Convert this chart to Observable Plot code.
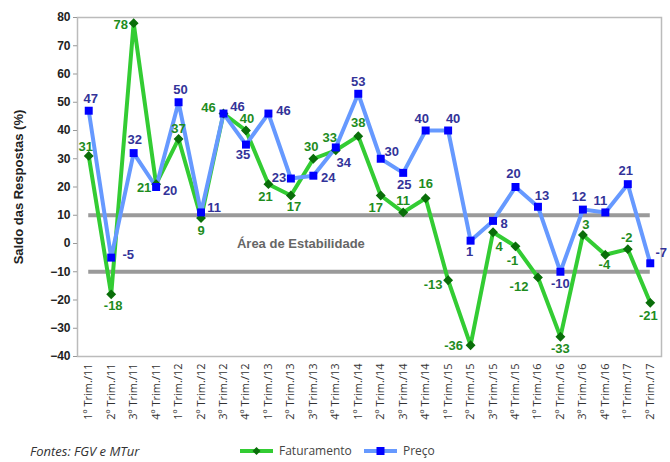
<!DOCTYPE html>
<html><head><meta charset="utf-8">
<script src="https://cdn.jsdelivr.net/npm/d3@7"></script>
<script src="https://cdn.jsdelivr.net/npm/@observablehq/plot@0.6"></script>
<style>
body{margin:0;background:#fff;font-family:Arial,"Liberation Sans",sans-serif;width:670px;height:462px;overflow:hidden}
#footer{position:relative;height:22px;font-family:"Open Sans",sans-serif;color:#444}
#footer .src{position:absolute;left:30px;top:0;line-height:22px;font-style:italic;font-size:13px;color:#333}
#footer .leg{position:absolute;top:0;line-height:22px;font-size:12px;display:flex;align-items:center}
#footer svg{margin-right:6px}
</style>
</head><body>
<div id="chart"></div>
<div id="footer">
  <span class="src">Fontes: FGV e MTur</span>
  <span class="leg" style="left:240px"><svg width="33" height="10"><line x1="0" y1="5" x2="33" y2="5" stroke="#33cc33" stroke-width="4"/><path d="M16.5,1 L20.5,5 L16.5,9 L12.5,5Z" fill="#0a6e0a"/></svg>Faturamento</span>
  <span class="leg" style="left:364px"><svg width="33" height="10"><line x1="0" y1="5" x2="33" y2="5" stroke="#6699ff" stroke-width="4"/><rect x="12.5" y="1" width="8" height="8" fill="#0000ff"/></svg>Preço</span>
</div>
<script>
const quarters = ["1º Trim./11","2º Trim./11","3º Trim./11","4º Trim./11","1º Trim./12","2º Trim./12","3º Trim./12","4º Trim./12","1º Trim./13","2º Trim./13","3º Trim./13","4º Trim./13","1º Trim./14","2º Trim./14","3º Trim./14","4º Trim./14","1º Trim./15","2º Trim./15","3º Trim./15","4º Trim./15","1º Trim./16","2º Trim./16","3º Trim./16","4º Trim./16","1º Trim./17","2º Trim./17"];
const faturamento = [31,-18,78,21,37,9,46,40,21,17,30,33,38,17,11,16,-13,-36,4,-1,-12,-33,3,-4,-2,-21];
const preco = [47,-5,32,20,50,11,46,35,46,23,24,34,53,30,25,40,40,1,8,20,13,-10,12,11,21,-7];
const yTicks = [-40,-30,-20,-10,0,10,20,30,40,50,60,70,80];
const stabilityLimits = [10,-10];
const stabilityLabel = "Área de Estabilidade";
const yLabel = "Saldo das Respostas (%)";
// label placement offsets [dx, dy] in px
const fatOffsets = [[-3,-9],[2,11],[-13,2],[-12,4],[0,-10],[0,13],[-15,-6],[1,-12],[-3,13],[3,11],[-2,-12],[-6,-12],[0,-13],[-5,12],[0,-12],[0,-14],[-15,5],[-17,1],[6,15],[-3,15],[-19,9],[0,12],[3,-10],[-1,10],[-1,-11],[-2,13]];
const preOffsets = [[2,-12],[17,-3],[1,-13],[14,4],[2,-12],[13,-5],[14,-7],[-3,10],[15,-3],[-12,-1],[15,2],[8,15],[0,-12],[11,-7],[1,12],[-4,-12],[5,-12],[-1,11],[11,3],[-2,-13],[4,-11],[0,12],[-4,-13],[-5,-12],[-2,-13],[11,-10]];

const fat = quarters.map((q,i)=>({q, v:faturamento[i], dx:fatOffsets[i][0], dy:fatOffsets[i][1]}));
const pre = quarters.map((q,i)=>({q, v:preco[i], dx:preOffsets[i][0], dy:preOffsets[i][1]}));

function labels(data, fill){
  return data.map(d => Plot.text([d], {x:"q", y:"v", text:d=>String(d.v), dx:d.dx, dy:d.dy, fill, fontWeight:"bold", fontSize:13, fontFamily:"Arial, 'Liberation Sans', sans-serif"}));
}

const chart = Plot.plot({
  width:670, height:440,
  marginTop:17, marginBottom:84, marginLeft:77, marginRight:9,
  style:{fontFamily:"Arial, 'Liberation Sans', sans-serif", background:"#fff"},
  x:{type:"point", domain:quarters, padding:0.5, round:false},
  y:{domain:[-40,80]},
  marks:[
    Plot.frame({stroke:"#bbb", strokeWidth:1.5}),
    Plot.ruleY(stabilityLimits, {x1:()=>quarters[0], x2:()=>quarters[quarters.length-1], stroke:"#9a9a9a", strokeWidth:4}),
    Plot.text([stabilityLabel], {x:()=>quarters[9], y:()=>0, textAnchor:"middle", fill:"#666", fontWeight:"bold", fontSize:13, dx:10}),
    Plot.axisY(yTicks, {tickSize:4, tickPadding:3, stroke:"#999", fontWeight:"bold", fontSize:12, fill:"#222", label:null}),
    Plot.axisX(quarters, {tickSize:0, tickPadding:7, tickRotate:-90, fontFamily:"'Open Sans', sans-serif", fontSize:11, fill:"#333", label:null}),
    Plot.text([yLabel], {frameAnchor:"left", dx:-59, rotate:-90, textAnchor:"middle", fontWeight:"bold", fontSize:13, fill:"#222"}),
    Plot.line(fat, {x:"q", y:"v", stroke:"#33cc33", strokeWidth:4}),
    Plot.line(pre, {x:"q", y:"v", stroke:"#6699ff", strokeWidth:4}),
    Plot.dot(fat, {x:"q", y:"v", symbol:"diamond2", r:3.5, fill:"#0a6e0a", stroke:"#0a6e0a"}),
    Plot.dot(pre, {x:"q", y:"v", symbol:"square", r:4.5, fill:"#0000ff", stroke:null}),
    ...labels(fat, "#1e8c1e"),
    ...labels(pre, "#333399")
  ]
});
document.getElementById("chart").appendChild(chart);
</script>
</body></html>
